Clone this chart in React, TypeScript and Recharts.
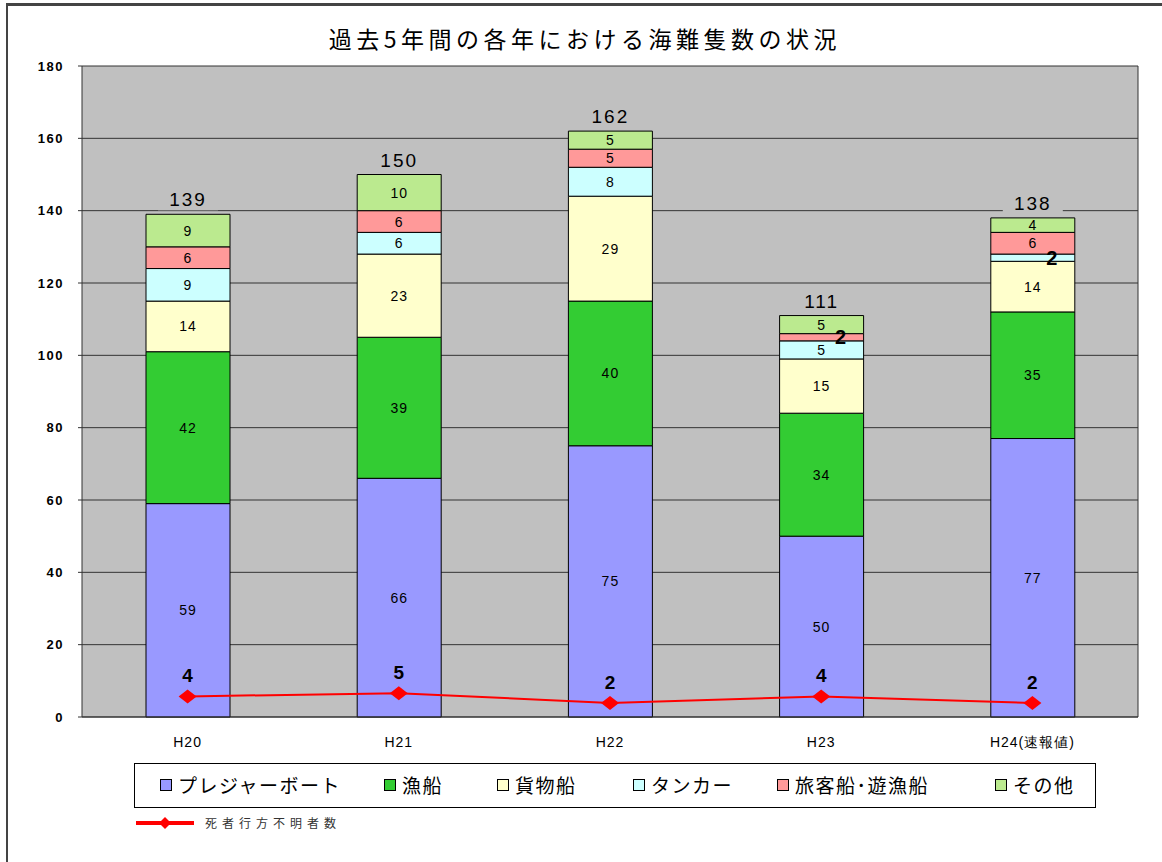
import React from 'react'
import { ComposedChart, Bar, Line, XAxis, YAxis, CartesianGrid, LabelList } from 'recharts'

const years = ['H20', 'H21', 'H22', 'H23', 'H24(速報値)']
const pleasure = [59, 66, 75, 50, 77]
const fishing = [42, 39, 40, 34, 35]
const cargo = [14, 23, 29, 15, 14]
const tanker = [9, 6, 8, 5, 2]
const passenger = [6, 6, 5, 2, 6]
const other = [9, 10, 5, 5, 4]
const totals = [139, 150, 162, 111, 138]
const deaths = [4, 5, 2, 4, 2]

const series = [
  { key: 'pleasure', name: 'プレジャーボート', color: '#9999FF', values: pleasure },
  { key: 'fishing', name: '漁船', color: '#33CC33', values: fishing },
  { key: 'cargo', name: '貨物船', color: '#FFFFCC', values: cargo },
  { key: 'tanker', name: 'タンカー', color: '#CCFFFF', values: tanker },
  { key: 'passenger', name: '旅客船･遊漁船', color: '#FF9999', values: passenger },
  { key: 'other', name: 'その他', color: '#BBEA8F', values: other },
]

const data = years.map((year, i) => {
  const row: any = { year, total: totals[i], deaths: deaths[i] }
  series.forEach((s) => {
    row[s.key] = s.values[i]
  })
  return row
})

const font = '"Liberation Sans", Arial, sans-serif'
const jpFont = '"Noto Sans CJK JP", sans-serif'

const SegLabel = (props: any) => {
  const { x, y, width, height, value } = props
  if (value == null) return null
  const cx = x + width / 2
  const cy = y + height / 2
  if (value <= 2) {
    return (
      <text x={cx + 19} y={cy} dy={7} textAnchor="middle" fontFamily={font} fontWeight="bold" fontSize={20} fill="#000">
        {value}
      </text>
    )
  }
  return (
    <text x={cx} y={cy} dy={5} textAnchor="middle" fontFamily={font} fontSize={14} letterSpacing={1} fill="#000">
      {value}
    </text>
  )
}

const TotalLabel = (props: any) => {
  const { x, y, width, index } = props
  const cx = x + width / 2
  return (
    <g>
      <rect x={cx - 30} y={y - 26} width={60} height={22} fill="#C0C0C0" />
      <text x={cx} y={y - 8} textAnchor="middle" fontFamily={font} fontSize={19} letterSpacing={2} fill="#000">
        {totals[index]}
      </text>
    </g>
  )
}

const DeathLabel = (props: any) => {
  const { x, y, value } = props
  return (
    <text x={x} y={y - 14} textAnchor="middle" fontFamily={font} fontWeight="bold" fontSize={19} fill="#000">
      {value}
    </text>
  )
}

const Diamond = (props: any) => {
  const { cx, cy } = props
  if (cx == null || cy == null) return null
  return <polygon points={`${cx - 9},${cy} ${cx},${cy - 7} ${cx + 9},${cy} ${cx},${cy + 7}`} fill="#FF0000" />
}

export default function App() {
  // legend item offsets inside the box
  const legendLefts = [25, 249, 362, 498, 642, 860]
  return (
    <div style={{ position: 'absolute', left: 0, top: 0, width: 1162, height: 862, background: '#fff', overflow: 'hidden' }}>
      <div
        style={{
          position: 'absolute',
          left: 6,
          top: 3,
          width: 1170,
          height: 870,
          borderTop: '3px solid #444',
          borderLeft: '2px solid #444',
        }}
      />
      <div
        style={{
          position: 'absolute',
          top: 21,
          left: 4,
          width: 1162,
          textAlign: 'center',
          fontFamily: jpFont,
          fontSize: 23,
          letterSpacing: 4.5,
          color: '#000',
        }}
      >
        過去5年間の各年における海難隻数の状況
      </div>
      <div style={{ position: 'absolute', left: 0, top: 0 }}>
        <ComposedChart width={1162} height={862} data={data} margin={{ top: 66, right: 23, bottom: 115, left: 22 }}>
          <CartesianGrid vertical={false} stroke="#333" fill="#C0C0C0" />
          <XAxis
            dataKey="year"
            height={30}
            tickLine={false}
            axisLine={{ stroke: '#333' }}
            tickMargin={14}
            tick={{ fontFamily: font, fontSize: 14, fill: '#000', letterSpacing: 1 }}
            interval={0}
          />
          <YAxis
            width={60}
            domain={[0, 180]}
            ticks={[0, 20, 40, 60, 80, 100, 120, 140, 160, 180]}
            tickSize={4}
            tickMargin={14}
            axisLine={{ stroke: '#333' }}
            tickLine={{ stroke: '#333' }}
            tick={{ fontFamily: font, fontSize: 13, fontWeight: 'bold', fill: '#000', letterSpacing: 1.5 }}
          />
          <YAxis
            yAxisId="r"
            orientation="right"
            width={1}
            domain={[-2.33, 197.7]}
            tick={false}
            tickLine={false}
            axisLine={{ stroke: '#333' }}
          />
          {series.map((s, i) => (
            <Bar
              key={s.key}
              dataKey={s.key}
              stackId="a"
              fill={s.color}
              stroke="#000"
              strokeWidth={1}
              barSize={84}
              isAnimationActive={false}
            >
              <LabelList dataKey={s.key} content={SegLabel} />
              {i === series.length - 1 && <LabelList dataKey="total" content={TotalLabel} />}
            </Bar>
          ))}
          <Line
            yAxisId="r"
            dataKey="deaths"
            stroke="#FF0000"
            strokeWidth={2}
            dot={<Diamond />}
            activeDot={false}
            isAnimationActive={false}
          >
            <LabelList dataKey="deaths" content={DeathLabel} />
          </Line>
        </ComposedChart>
      </div>
      <div
        style={{
          position: 'absolute',
          left: 134,
          top: 763,
          width: 962,
          height: 45,
          border: '1px solid #000',
          background: '#fff',
          boxSizing: 'border-box',
          fontFamily: jpFont,
          fontSize: 19,
          letterSpacing: 1.5,
          color: '#000',
        }}
      >
        {series.map((s, i) => (
          <div
            key={s.key}
            style={{ position: 'absolute', left: legendLefts[i], top: 7, display: 'flex', alignItems: 'center', whiteSpace: 'nowrap' }}
          >
            <span
              style={{
                display: 'inline-block',
                width: 10,
                height: 10,
                background: s.color,
                border: '1px solid #000',
                marginRight: 6,
              }}
            />
            {s.name}
          </div>
        ))}
      </div>
      <div style={{ position: 'absolute', left: 136, top: 814, display: 'flex', alignItems: 'center' }}>
        <svg width={58} height={16}>
          <line x1={0} y1={8} x2={58} y2={8} stroke="#FF0000" strokeWidth={4} />
          <polygon points="23,8 29,2 35,8 29,14" fill="#FF0000" />
        </svg>
        <span style={{ marginLeft: 11, fontFamily: jpFont, fontSize: 12, letterSpacing: 5, color: '#333' }}>死者行方不明者数</span>
      </div>
    </div>
  )
}
